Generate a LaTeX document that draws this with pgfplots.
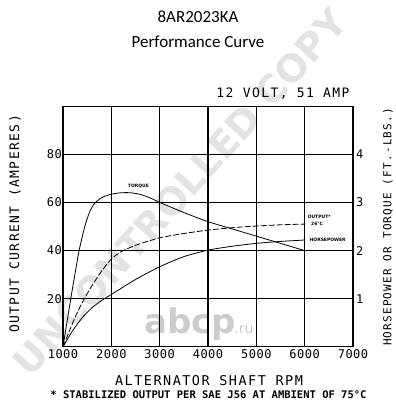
\documentclass[border=0pt]{standalone}
\usepackage{pgfplots}
\pgfplotsset{compat=1.18}
\usepackage{fontspec}
\setmainfont{DejaVu Sans Mono}
\newfontfamily\titlefont{Carlito}
\newfontfamily\tickfont{DejaVu Sans Mono}[LetterSpace=4]
\newfontfamily\widemono{DejaVu Sans Mono}[LetterSpace=11]
\newfontfamily\sansb{DejaVu Sans}
\begin{document}
\begin{tikzpicture}
\useasboundingbox (0pt,0pt) rectangle (396pt,400pt);
% watermark
\node[rotate=48, text=black!11, font=\sansb\bfseries\fontsize{38}{38}\selectfont] at (180pt,208pt) {UNCONTROLLED COPY};
\node[text=black!20, font=\sansb\bfseries\fontsize{34}{34}\selectfont] at (190pt,76pt) {abcp};
\node[text=black!20, font=\sansb\fontsize{14}{14}\selectfont] at (244pt,70pt) {.ru};
% titles
\node[font=\titlefont\fontsize{17}{17}\selectfont] at (198pt,383pt) {8AR2023KA};
\node[font=\titlefont\fontsize{17}{17}\selectfont] at (198pt,358pt) {Performance Curve};
\node[font=\widemono\fontsize{13}{13}\selectfont] at (283pt,306pt) {12 VOLT, 51 AMP};
\node[font=\widemono\fontsize{13.5}{13.5}\selectfont] at (209pt,19pt) {ALTERNATOR SHAFT RPM};
\node[font=\bfseries\fontsize{10.5}{10.5}\selectfont] at (208.5pt,5.5pt) {* STABILIZED OUTPUT PER SAE J56 AT AMBIENT OF 75°C};
\node[rotate=90, font=\widemono\fontsize{13}{13}\selectfont] at (15pt,176pt) {OUTPUT CURRENT (AMPERES)};
\node[rotate=90, font=\widemono\fontsize{11}{11}\selectfont] at (388pt,173pt) {HORSEPOWER OR TORQUE (FT.-LBS.)};

\begin{axis}[at={(63pt,53pt)}, anchor=south west, scale only axis,
  width=290pt, height=241pt,
  xmin=1000, xmax=7000, ymin=0, ymax=100,
  xtick={1000,2000,...,7000}, ytick={20,40,60,80},
  grid=major, major grid style={black, line width=0.6pt},
  major tick length=0pt, axis line style={black, line width=1pt},
  /pgf/number format/assume math mode=true,
  /pgf/number format/1000 sep={},
  tick label style={font=\tickfont\fontsize{12}{12}\selectfont},
  xticklabel style={inner sep=0pt, yshift=-2pt},
  yticklabel style={inner sep=0pt, xshift=-1pt},
  clip=false]
\draw[line width=1.1pt] (axis cs:3000,0) -- (axis cs:3000,100);
\draw[line width=1.1pt] (axis cs:4000,0) -- (axis cs:4000,100);
\draw[line width=1.1pt] (axis cs:1000,40) -- (axis cs:7000,40);
% torque
\addplot[black, line width=0.8pt, smooth, tension=0.4] coordinates {
(1000,0) (1080,10) (1160,20) (1245,30) (1333,40) (1450,50) (1550,56) (1650,59.5)
(1800,62) (2000,63.4) (2200,64) (2400,64) (2600,63.3) (2800,61.9) (3000,60)
(3500,55.8) (4000,52) (4500,49) (5000,46) (5500,43) (6000,40)};
% output (dashed)
\addplot[black, line width=0.8pt, dash pattern=on 6pt off 2pt, smooth, tension=0.4] coordinates {
(1000,0) (1100,5) (1200,10) (1300,14.5) (1440,20) (1600,25.5) (1800,31.5) (2000,36.5)
(2200,39.5) (2500,42.2) (3000,45.3) (3500,47.1) (4000,48.5) (4500,49.5) (5000,50.2)
(5500,50.7) (6000,51)};
% horsepower
\addplot[black, line width=0.8pt, smooth, tension=0.4] coordinates {
(1000,0) (1100,3.5) (1200,6.8) (1400,12.2) (1600,16.3) (1800,19.3) (2000,21.8)
(2500,28) (3000,33.3) (3500,37.5) (4000,40.2) (4500,41.8) (5000,43) (5500,43.8) (6000,44.4)};
\node[font=\sansb\bfseries\fontsize{4.5}{5}\selectfont] at (axis cs:2560,66.8) {TORQUE};
\node[font=\sansb\bfseries\fontsize{4.5}{5}\selectfont, anchor=west, inner sep=0pt] at (axis cs:6060,53.9) {OUTPUT*};
\node[font=\sansb\bfseries\fontsize{4.5}{5}\selectfont, anchor=west, inner sep=0pt] at (axis cs:6130,51) {26°C};
\node[font=\sansb\bfseries\fontsize{4.5}{5}\selectfont, anchor=west, inner sep=0pt] at (axis cs:6100,44.4) {HORSEPOWER};
\end{axis}
\begin{axis}[at={(63pt,53pt)}, anchor=south west, scale only axis,
  width=290pt, height=241pt,
  xmin=1000, xmax=7000, ymin=0, ymax=5,
  axis x line=none, axis y line*=right,
  axis line style={draw=none},
  ytick={1,2,3,4}, major tick length=0pt,
  /pgf/number format/assume math mode=true,
  tick label style={font=\tickfont\fontsize{12}{12}\selectfont},
  yticklabel style={inner sep=0pt, xshift=3pt}]
\addplot[draw=none] coordinates {(1000,0) (7000,5)};
\end{axis}
\end{tikzpicture}
\end{document}
